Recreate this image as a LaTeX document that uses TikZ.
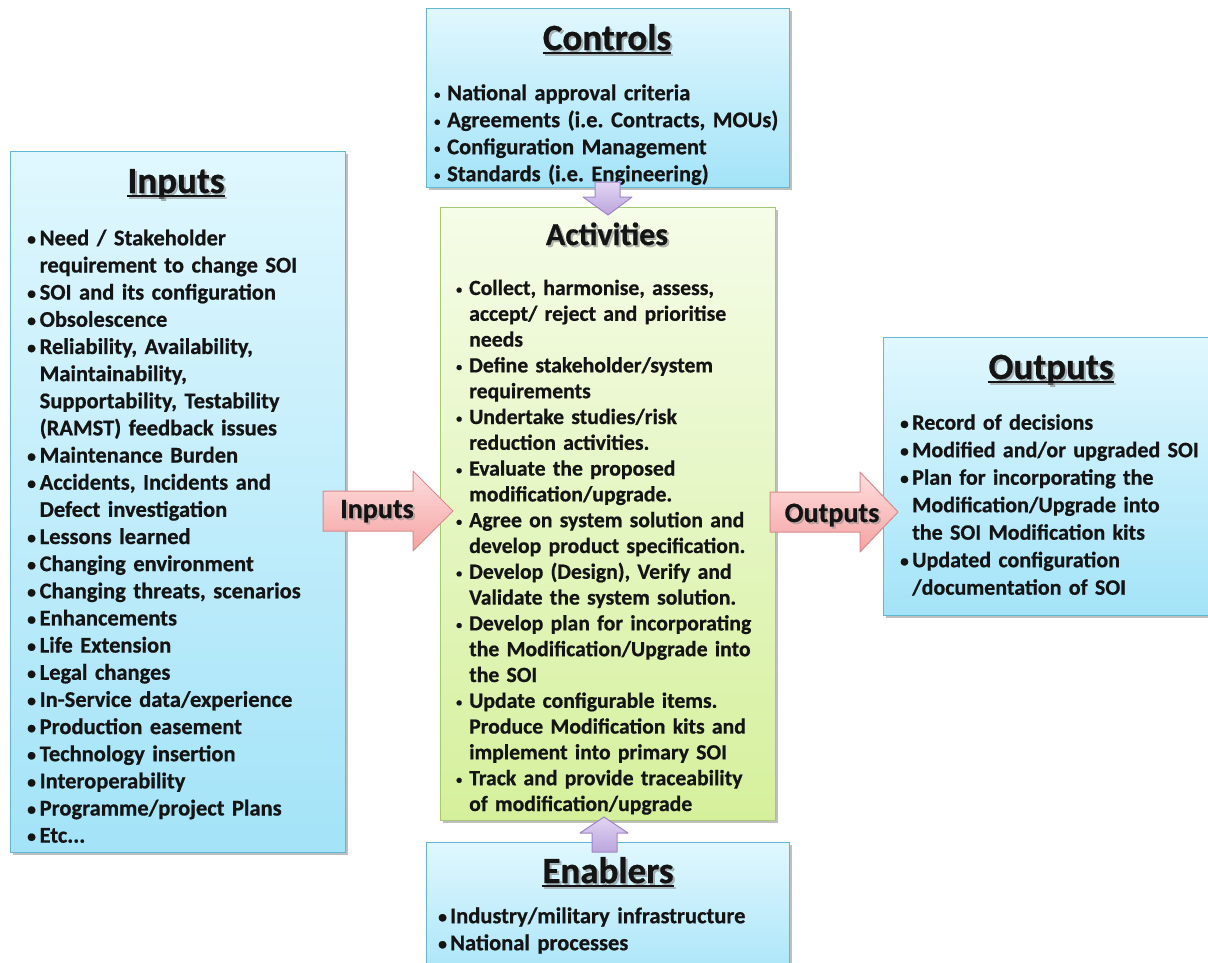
\documentclass[tikz,border=0pt]{standalone}
\usepackage{fontspec}
\setmainfont{Carlito}[BoldFeatures={FakeBold=0.7}]
\usetikzlibrary{shadows}
\definecolor{bluetop}{HTML}{E0F7FE}
\definecolor{bluebot}{HTML}{A3E3F8}
\definecolor{blueline}{HTML}{62B7D2}
\definecolor{greentop}{HTML}{F5FCE8}
\definecolor{greenbot}{HTML}{D5F09C}
\definecolor{greenline}{HTML}{A6C872}
\definecolor{pinktop}{HTML}{FFDEDE}
\definecolor{pinkbot}{HTML}{F4A3A3}
\definecolor{pinkline}{HTML}{D88A8A}
\definecolor{purptop}{HTML}{E2D5F3}
\definecolor{purpbot}{HTML}{BBA5DD}
\definecolor{purpline}{HTML}{9E86C6}
\definecolor{txt}{HTML}{141414}
\newlength\bulw
\newcommand\bitem[2][13pt]{\par\setlength\bulw{#1}\hangindent=\bulw\hangafter=1\noindent\strut\makebox[\bulw][l]{\raisebox{1.5pt}{\scalebox{0.55}{\textbullet}}}#2}
\newcommand\bigbitem[2][13pt]{\par\setlength\bulw{#1}\hangindent=\bulw\hangafter=1\noindent\strut\makebox[\bulw][l]{\raisebox{0.5pt}{\scalebox{0.78}{\textbullet}}}#2}
\newcommand\titleat[5]{% name, x, baseline y, text, underline?
  \node[titlefont, text=black!50, opacity=.55, anchor=base] at (#2+2,#3+2) {#4};
  \node[titlefont, anchor=base] (#1) at (#2,#3) {#4};
  \ifnum#5=1
    \draw[line width=2.2pt, black!45, opacity=.55] ([xshift=2pt,yshift=-5pt]#1.base west) -- ([xshift=2pt,yshift=-5pt]#1.base east);
    \draw[line width=2.2pt, txt] ([yshift=-3pt]#1.base west) -- ([yshift=-3pt]#1.base east);
  \fi
}
\begin{document}
\begin{tikzpicture}[x=1pt,y=-1pt,
  bluebox/.style={draw=blueline, line width=1.3pt, top color=bluetop, bottom color=bluebot,
     drop shadow={shadow xshift=2.5pt, shadow yshift=-2.5pt, fill=black, opacity=.25}, anchor=north west, inner sep=0},
  greenbox/.style={draw=greenline, line width=1.3pt, top color=greentop, bottom color=greenbot,
     drop shadow={shadow xshift=2.5pt, shadow yshift=-2.5pt, fill=black, opacity=.25}, anchor=north west, inner sep=0},
  pinkarrow/.style={draw=pinkline, line width=1pt, top color=pinktop, bottom color=pinkbot, line join=round},
  purparrow/.style={draw=purpline, line width=1pt, top color=purptop, bottom color=purpbot, line join=round},
  titlefont/.style={font=\fontsize{37}{40}\selectfont\bfseries, text=txt, inner sep=0},
  listtext/.style={font=\fontsize{22.5}{27.15}\selectfont\bfseries\frenchspacing, text=txt, inner sep=0, text width=500pt, anchor=north west},
  arrowlabel/.style={font=\fontsize{28}{30}\selectfont\bfseries, text=txt, inner sep=0, anchor=base},
]
\useasboundingbox (0,0) rectangle (1208,962);
\clip (0,0) rectangle (1208,962);
\fill[white] (0,0) rectangle (1208,962);

% boxes
\node[bluebox, minimum width=335pt, minimum height=701pt] (inbox) at (10,151) {};
\node[bluebox, minimum width=363pt, minimum height=179pt] (ctrlbox) at (426,8) {};
\node[greenbox, minimum width=335pt, minimum height=613pt] (actbox) at (440,207) {};
\node[bluebox, minimum width=345pt, minimum height=278pt] (outbox) at (883,337) {};
\node[bluebox, minimum width=363pt, minimum height=150pt] (enbox) at (426,842) {};

% titles
\titleat{ttlin}{176}{193}{Inputs}{1}
\titleat{ttlctrl}{607}{50}{Controls}{1}
\titleat{ttlout}{1051}{379}{Outputs}{1}
\titleat{ttlen}{608}{883}{Enablers}{1}
\begin{scope}[titlefont/.append style={font=\fontsize{32}{36}\selectfont\bfseries}]
\titleat{ttlact}{607}{245}{Activities}{0}
\end{scope}

% lists
\node[listtext, font=\fontsize{22.5}{27}\selectfont\bfseries\frenchspacing] (ctrllist) at (434,73) {%
\bitem{National approval criteria}
\bitem{Agreements (i.e. Contracts, MOUs)}
\bitem{Configuration Management}
\bitem{Standards (i.e. Engineering)}\par};

\node[listtext] (inlist) at (27,218) {%
\bigbitem[12.5pt]{Need / Stakeholder\newline requirement to change SOI}
\bigbitem[12.5pt]{SOI and its configuration}
\bigbitem[12.5pt]{Obsolescence}
\bigbitem[12.5pt]{Reliability, Availability,\newline Maintainability,\newline Supportability, Testability\newline (RAMST) feedback issues}
\bigbitem[12.5pt]{Maintenance Burden}
\bigbitem[12.5pt]{Accidents, Incidents and\newline Defect investigation}
\bigbitem[12.5pt]{Lessons learned}
\bigbitem[12.5pt]{Changing environment}
\bigbitem[12.5pt]{Changing threats, scenarios}
\bigbitem[12.5pt]{Enhancements}
\bigbitem[12.5pt]{Life Extension}
\bigbitem[12.5pt]{Legal changes}
\bigbitem[12.5pt]{In-Service data/experience}
\bigbitem[12.5pt]{Production easement}
\bigbitem[12.5pt]{Technology insertion}
\bigbitem[12.5pt]{Interoperability}
\bigbitem[12.5pt]{Programme/project Plans}
\bigbitem[12.5pt]{Etc...}\par};

\node[listtext, font=\fontsize{21.7}{25.8}\selectfont\bfseries\frenchspacing] (actlist) at (456,269) {%
\bitem[13pt]{Collect, harmonise, assess,\newline accept/ reject and prioritise\newline needs}
\bitem[13pt]{Define stakeholder/system\newline requirements}
\bitem[13pt]{Undertake studies/risk\newline reduction activities.}
\bitem[13pt]{Evaluate the proposed\newline modification/upgrade.}
\bitem[13pt]{Agree on system solution and\newline develop product specification.}
\bitem[13pt]{Develop (Design), Verify and\newline Validate the system solution.}
\bitem[13pt]{Develop plan for incorporating\newline the Modification/Upgrade into\newline the SOI}
\bitem[13pt]{Update configurable items.\newline Produce Modification kits and\newline implement into primary SOI}
\bitem[13pt]{Track and provide traceability\newline of modification/upgrade}\par};

\node[listtext, font=\fontsize{22}{27.5}\selectfont\bfseries\frenchspacing] (outlist) at (900,402) {%
\bigbitem[12pt]{Record of decisions}
\bigbitem[12pt]{Modified and/or upgraded SOI}
\bigbitem[12pt]{Plan for incorporating the\newline Modification/Upgrade into\newline the SOI Modification kits}
\bigbitem[12pt]{Updated configuration\newline /documentation of SOI}\par};

\node[listtext, font=\fontsize{22.5}{27}\selectfont\bfseries\frenchspacing] (enlist) at (438,896) {%
\bigbitem[12pt]{Industry/military infrastructure}
\bigbitem[12pt]{National processes}\par};

% block arrows
\draw[pinkarrow] (323,491) -- (413,491) -- (413,471) -- (453,511) -- (413,551) -- (413,531) -- (323,531) -- cycle;
\node[arrowlabel, text=black!45, opacity=.5] at (379,520) {Inputs};
\node[arrowlabel] (lblin) at (377,518) {Inputs};

\draw[pinkarrow] (770,492) -- (860,492) -- (860,472) -- (898,512) -- (860,552) -- (860,532) -- (770,532) -- cycle;
\node[arrowlabel, text=black!45, opacity=.5] at (834,524) {Outputs};
\node[arrowlabel] (lblout) at (832,522) {Outputs};

\draw[purparrow] (595,182) -- (620,182) -- (620,197) -- (632,197) -- (608,215) -- (583,197) -- (595,197) -- cycle;
\draw[purparrow] (592,852) -- (617,852) -- (617,833) -- (628,833) -- (604,817) -- (580,833) -- (592,833) -- cycle;
\end{tikzpicture}
\end{document}
